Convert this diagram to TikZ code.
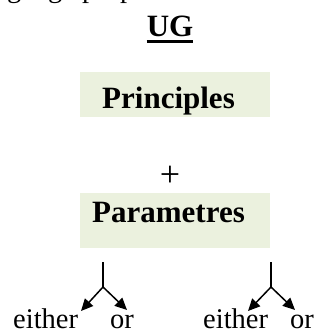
\documentclass[tikz,border=0pt]{standalone}
\usepackage{fontspec}
\setmainfont{Liberation Serif}
\usetikzlibrary{arrows.meta}
\definecolor{boxgreen}{RGB}{235,241,222}
\tikzset{
  txt/.style={inner sep=0pt, anchor=base west, font=\fontsize{28.5}{34}\selectfont},
  btxt/.style={inner sep=0pt, anchor=base west, font=\fontsize{31}{36}\selectfont\bfseries},
  greenbox/.style={fill=boxgreen, draw=none},
  fork/.style={line width=1.5pt},
  forkarrow/.style={line width=1.5pt, -{Triangle[length=12pt,width=11pt]}}
}
\begin{document}
\begin{tikzpicture}[x=1pt,y=-1pt]
\useasboundingbox (0,0) rectangle (328,331);
\clip (0,0) rectangle (328,331);
% cut-off line of running text
\node[txt] (top) at (-28,-2) {language properties.};
% UG heading
\node[btxt, anchor=base] (ug) at (170,37) {UG};
\draw[line width=2.6pt] ([yshift=-4.5pt]ug.base west) -- ([yshift=-4.5pt]ug.base east);
% Principles
\fill[greenbox] (80,72) rectangle (270,117);
\node[btxt] (princ) at (102,109) {Principles};
% plus
\node[txt, anchor=base, font=\fontsize{36}{40}\selectfont] (plus) at (170,186) {+};
% Parametres
\fill[greenbox] (80,193) rectangle (270,248);
\node[btxt] (param) at (92,222) {Parametres};
% choices
\node[txt] (e1) at (13,328) {either};
\node[txt] (o1) at (110,328) {or};
\node[txt] (e2) at (203,328) {either};
\node[txt] (o2) at (290,328) {or};
% forks
\coordinate (s1) at (103,262);
\coordinate (f1) at (103,287);
\coordinate (t1a) at (81,311);
\coordinate (t1b) at (127,310);
\coordinate (s2) at (271,262);
\coordinate (f2) at (271,287);
\coordinate (t2a) at (248,311);
\coordinate (t2b) at (295,310);
\draw[fork] (s1) -- (f1);
\draw[forkarrow] (f1) -- (t1a);
\draw[forkarrow] (f1) -- (t1b);
\draw[fork] (s2) -- (f2);
\draw[forkarrow] (f2) -- (t2a);
\draw[forkarrow] (f2) -- (t2b);
\end{tikzpicture}
\end{document}
